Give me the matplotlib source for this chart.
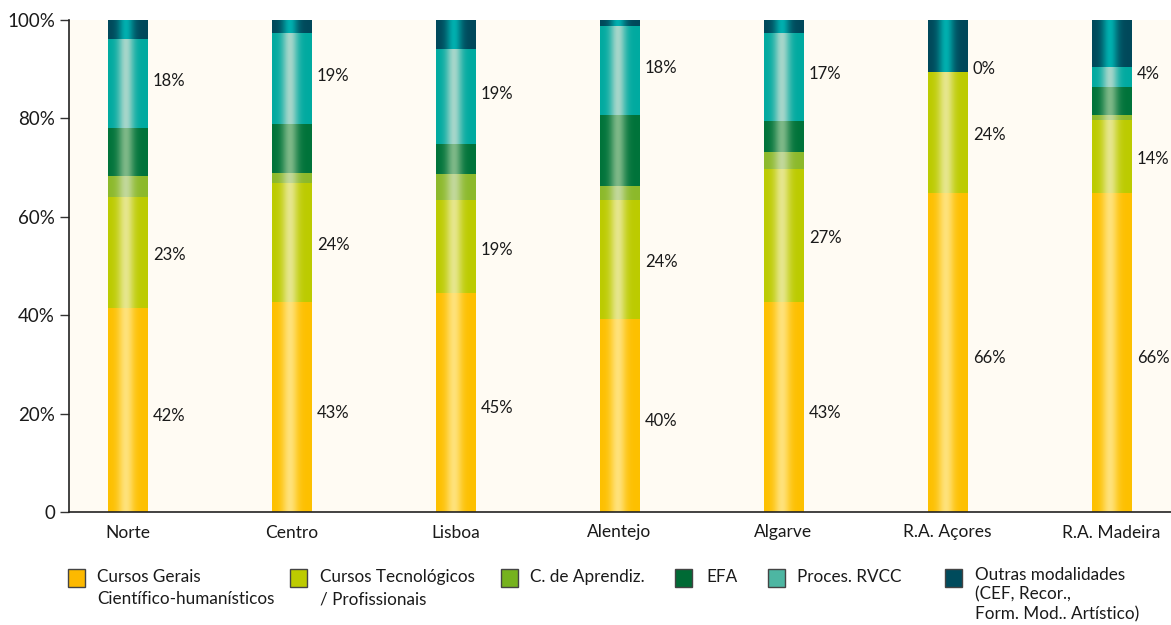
import matplotlib.pyplot as plt
import numpy as np
from matplotlib.colors import to_rgb
from matplotlib.patches import Rectangle

plt.rcParams['font.family'] = ['Lato', 'DejaVu Sans']

regions = ['Norte', 'Centro', 'Lisboa', 'Alentejo', 'Algarve', 'R.A. Açores', 'R.A. Madeira']

# shares per region [%]
gerais = [41.4, 42.7, 44.5, 39.3, 42.7, 64.8, 64.8]
tecnol = [22.7, 24.2, 18.9, 24.2, 27.1, 24.7, 14.9]
aprendiz = [4.1, 2.1, 5.4, 2.7, 3.4, 0.0, 0.9]
efa = [9.9, 9.9, 5.9, 14.5, 6.3, 0.0, 5.8]
rvcc = [18.1, 18.4, 19.4, 18.1, 17.9, 0.0, 4.1]
outras = [3.8, 2.7, 5.9, 1.2, 2.6, 10.5, 9.5]

# printed data labels
lab_gerais = ['42%', '43%', '45%', '40%', '43%', '66%', '66%']
lab_tecnol = ['23%', '24%', '19%', '24%', '27%', '24%', '14%']
lab_rvcc = ['18%', '19%', '19%', '18%', '17%', '0%', '4%']

legend_names = ['Cursos Gerais\nCientífico-humanísticos', 'Cursos Tecnológicos\n/ Profissionais',
                'C. de Aprendiz.', 'EFA', 'Proces. RVCC',
                'Outras modalidades\n(CEF, Recor.,\nForm. Mod.. Artístico)']

series = [gerais, tecnol, aprendiz, efa, rvcc, outras]
# (edge colour, highlight colour) for the cylinder look
shades = [('#FDC000', '#FFE27A'), ('#BCCB00', '#E6E68C'), ('#8CB92A', '#C2D89A'),
          ('#00733A', '#7DB887'), ('#00AAA0', '#A6D6CA'), ('#00485A', '#00AFAF')]
leg_colors = ['#FDB900', '#BDCB00', '#76B21E', '#006A35', '#4DB6A2', '#004B5C']

fig = plt.figure(figsize=(11.71, 6.25), dpi=100)
ax = fig.add_axes([69 / 1171, 1 - 512 / 625, 1 - 69 / 1171, 492 / 625])
ax.set_facecolor('#FFFBF3')

x = np.arange(len(regions))
w = 0.238
t = np.linspace(0, 1, 64)
prof = np.exp(-((t - 0.45) / 0.2) ** 2)

bottom = np.zeros(len(regions))
for vals, (c_edge, c_mid) in zip(series, shades):
    bars = ax.bar(x, vals, w, bottom=bottom, color=c_edge, linewidth=0)
    e = np.array(to_rgb(c_edge))
    m = np.array(to_rgb(c_mid))
    grad = (e[None, :] + (m - e)[None, :] * prof[:, None])[None, :, :]
    for b in bars:
        if b.get_height() <= 0:
            continue
        ax.imshow(grad, extent=(b.get_x(), b.get_x() + b.get_width(), b.get_y(), b.get_y() + b.get_height()),
                  aspect='auto', interpolation='bilinear', zorder=2)
    bottom = bottom + np.array(vals)

# data labels to the right of the bars
g = np.array(gerais)
tc = np.array(tecnol)
r_base = g + tc + np.array(aprendiz) + np.array(efa)
for i in range(len(regions)):
    xl = x[i] + w / 2 + 0.035
    ax.text(xl, g[i] / 2 - 1.2, lab_gerais[i], va='center', ha='left', fontsize=12, color='#1a1a1a')
    ax.text(xl, g[i] + tc[i] / 2 - 0.6, lab_tecnol[i], va='center', ha='left', fontsize=12, color='#1a1a1a')
    ax.text(xl, r_base[i] + rvcc[i] / 2 + 0.5, lab_rvcc[i], va='center', ha='left', fontsize=12, color='#1a1a1a')

ax.set_xlim(-0.357, 6.363)
ax.set_ylim(0, 100)
ax.set_yticks([0, 20, 40, 60, 80, 100])
ax.set_yticklabels(['0', '20%', '40%', '60%', '80%', '100%'], fontsize=13.5, color='#1a1a1a')
ax.set_xticks(x)
ax.set_xticklabels(regions, fontsize=12.5, color='#1a1a1a')
ax.tick_params(axis='x', length=0, pad=9)
ax.tick_params(axis='y', length=6.5, width=1, pad=3.5, color='#333333')
for s in ['top', 'right']:
    ax.spines[s].set_visible(False)
for s in ['left', 'bottom']:
    ax.spines[s].set_color('#222222')
    ax.spines[s].set_linewidth(1.2)

# legend row along the bottom
box_x = [68, 290, 501, 675, 768, 945]
txt_x = [97, 320, 530, 706, 797, 975]
for bx, tx, col, name in zip(box_x, txt_x, leg_colors, legend_names):
    fig.patches.append(Rectangle((bx / 1171, 1 - 587 / 625), 17 / 1171, 18 / 625,
                                 transform=fig.transFigure, facecolor=col, edgecolor='#444444', linewidth=1))
    nlines = name.count('\n') + 1
    ls = 1.47 if nlines < 3 else 1.28
    top = 569 if nlines < 3 else 567
    fig.text(tx / 1171, 1 - top / 625, name, ha='left', va='top', fontsize=12.3, linespacing=ls, color='#1a1a1a')

fig.savefig('out.png', dpi=100)
